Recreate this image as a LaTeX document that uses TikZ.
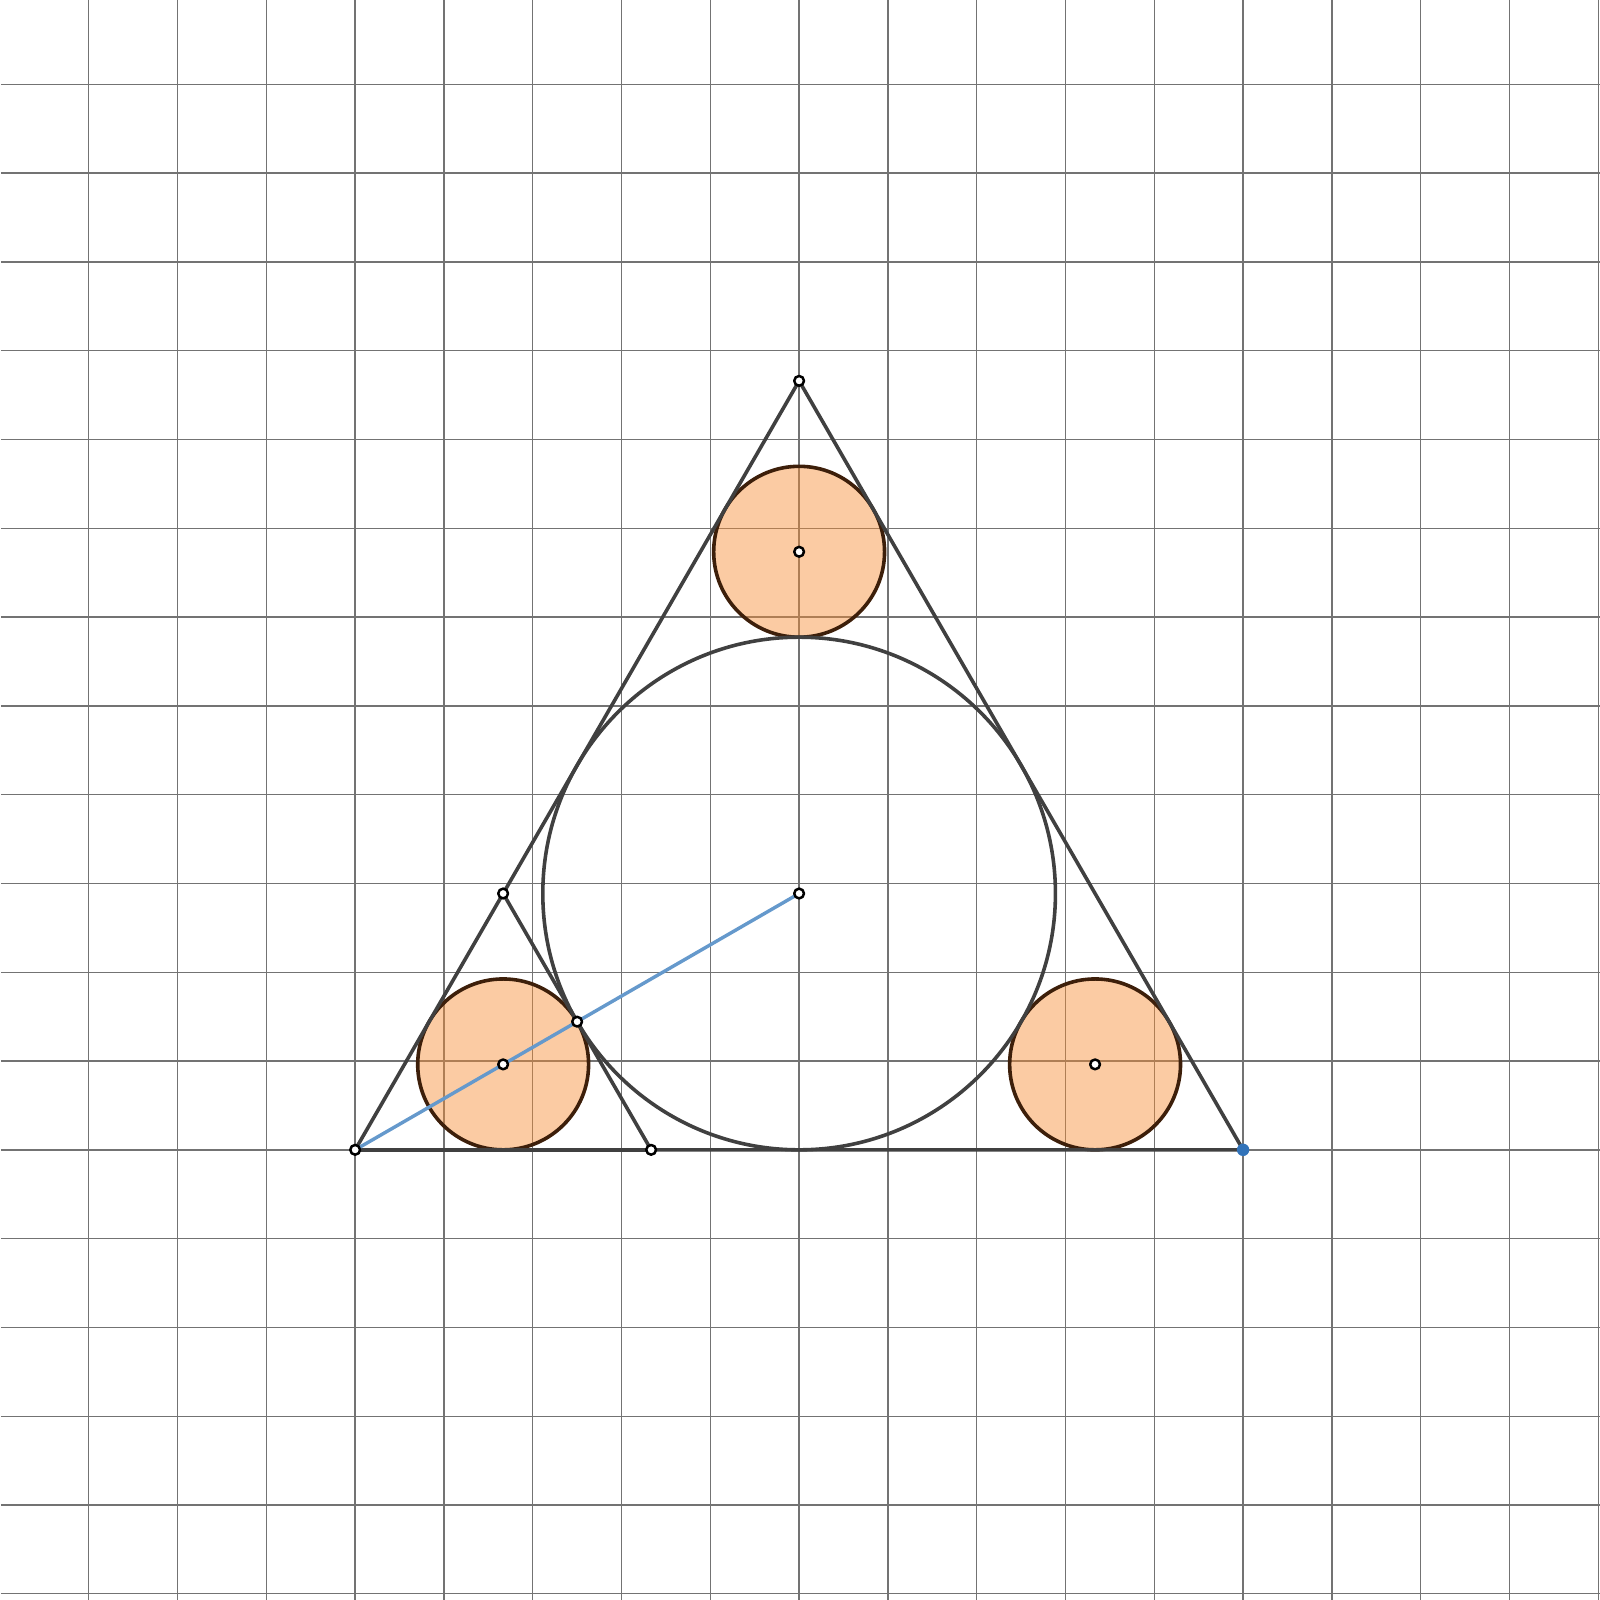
\documentclass[tikz,border=0pt]{standalone}
\usepackage{tikz}
\usepackage{color}

\definecolor{gridgray}{RGB}{115,115,115}
\definecolor{edgegray}{RGB}{64,64,64}
\definecolor{ringbrown}{RGB}{61,31,10}
\definecolor{discorange}{RGB}{246,140,50}
\definecolor{lineblue}{RGB}{101,153,204}
\definecolor{dotblue}{RGB}{50,115,185}

\newcommand{\inr}{2.88675}
\newcommand{\smr}{0.96225}

\begin{document}
\begin{tikzpicture}[line join=round,
    grid line/.style={gridgray,line width=0.45pt},
    side/.style={edgegray,line width=1.15pt},
    small disc/.style={draw=ringbrown,fill=discorange,fill opacity=0.45,line width=1.15pt},
    blue line/.style={lineblue,line width=1.1pt},
    point/.style={circle,draw=black,fill=white,line width=0.8pt,inner sep=0pt,minimum size=0.11cm},
    end point/.style={circle,fill=dotblue,inner sep=0pt,minimum size=0.14cm}]
    \useasboundingbox (-4,-5.07) rectangle (14.02,12.95);
    \draw[grid line] (-3.99,-5.07) grid (14.02,12.95);

    \coordinate (A) at (0,0);
    \coordinate (B) at (10,0);
    \coordinate (C) at (5,{5*sqrt(3)});
    \coordinate (O) at (5,\inr);
    \coordinate (P) at ({5/3},{5*sqrt(3)/3});
    \coordinate (D) at ({10/3},0);
    \coordinate (T) at (2.5,{\inr/2});
    \coordinate (I1) at ({5/3},\smr);
    \coordinate (I2) at ({25/3},\smr);
    \coordinate (I3) at (5,{2*\inr+\smr});

    % small circles
    \draw[small disc] (I1) circle (\smr);
    \draw[small disc] (I2) circle (\smr);
    \draw[small disc] (I3) circle (\smr);

    % triangle, incircle and cut
    \draw[side] (A) -- (B) -- (C) -- cycle;
    \draw[side] (A) -- (D);
    \draw[side] (O) circle (\inr);
    \draw[side] (P) -- (D);
    \draw[blue line] (A) -- (O);

    % points
    \node[point] (markA) at (A) {};
    \node[point] (markC) at (C) {};
    \node[point] (markO) at (O) {};
    \node[point] (markP) at (P) {};
    \node[point] (markD) at (D) {};
    \node[point] (markT) at (T) {};
    \node[point] (markI1) at (I1) {};
    \node[point] (markI2) at (I2) {};
    \node[point] (markI3) at (I3) {};
    \node[end point] (markB) at (B) {};
\end{tikzpicture}
\end{document}
